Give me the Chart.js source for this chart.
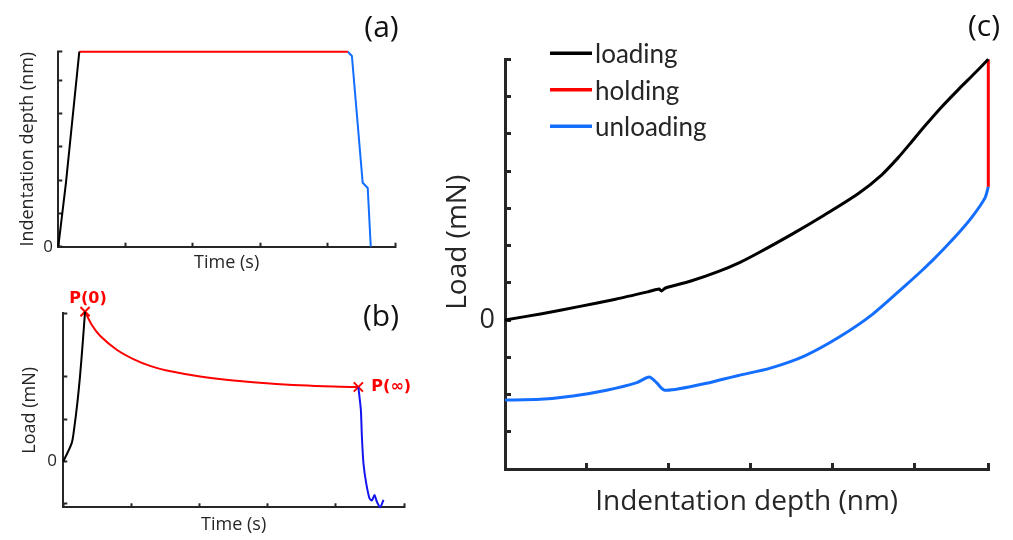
<!DOCTYPE html>
<html>
<head>
<meta charset="utf-8">
<script src="https://cdn.jsdelivr.net/npm/chart.js@4.4.1/dist/chart.umd.min.js"></script>
<style>
  html, body { margin: 0; padding: 0; background: #fff; }
  body { width: 1013px; height: 540px; position: relative; overflow: hidden; }
  canvas { position: absolute; }
  #chartA { left: 0; top: 0; }
  #chartB { left: 0; top: 280px; }
  #chartC { left: 430px; top: 0; }
</style>
</head>
<body>
<canvas id="chartA" width="420" height="280"></canvas>
<canvas id="chartB" width="420" height="260"></canvas>
<canvas id="chartC" width="583" height="540"></canvas>
<script>
// (a) indentation depth vs time
const timeLoadA = [0, 0.114, 0.312];
const depthLoadA = [0, 1.92, 5.85];
const timeHoldA = [0.312, 4.30];
const depthHoldA = [5.85, 5.85];
const timeUnloadA = [4.30, 4.36, 4.52, 4.595, 4.64];
const depthUnloadA = [5.85, 5.72, 1.92, 1.76, 0];
const xTicksA = [0, 1, 2, 3, 4, 5];
const yTicksA = [0, 1, 2, 3, 4, 5, 5.85];

// (b) load vs time
const timeLoadB = [0, 0.123, 0.157, 0.206, 0.245, 0.285, 0.319];
const loadLoadB = [0, 0.435, 0.75, 1.38, 2.01, 2.8, 3.54];
const timeHoldB = [0.319, 0.417, 0.539, 0.784, 1.028, 1.273, 1.518, 2.007, 2.496, 2.986, 3.475, 3.965, 4.33];
const loadHoldB = [3.54, 3.23, 2.97, 2.64, 2.42, 2.26, 2.15, 2.01, 1.915, 1.85, 1.80, 1.77, 1.76];
const timeUnloadB = [4.33, 4.367, 4.382, 4.405, 4.445, 4.493, 4.529, 4.567, 4.602, 4.651, 4.699];
const loadUnloadB = [1.76, 1.22, 0.59, -0.04, -0.51, -0.865, -0.92, -0.79, -0.95, -1.08, -0.905];
const xTicksB = [0, 1, 2, 3, 4, 5];
const yTicksB = [-1, 0, 1, 2, 3.5];

// (c) load vs indentation depth
const depthLoadC = [0, 0.45, 0.9, 1.35, 1.75, 1.88, 1.91, 1.96, 2.26, 2.6, 2.87, 3.09, 3.5, 3.9, 4.31, 4.6, 4.8, 4.97, 5.13, 5.33, 5.54, 5.7, 5.9];
const loadLoadC = [0, 0.17, 0.36, 0.56, 0.76, 0.83, 0.78, 0.86, 1.04, 1.3, 1.55, 1.8, 2.3, 2.82, 3.39, 3.9, 4.36, 4.8, 5.22, 5.72, 6.2, 6.55, 7.0];
const depthHoldC = [5.9, 5.9];
const loadHoldC = [7.0, 3.58];
const depthUnloadC = [5.9, 5.86, 5.7, 5.54, 5.37, 5.21, 5.09, 4.91, 4.49, 4.07, 3.66, 3.24, 2.85, 2.66, 2.46, 2.26, 2.04, 1.95, 1.91, 1.85, 1.76, 1.61, 1.24, 0.83, 0.43, 0];
const loadUnloadC = [3.58, 3.28, 2.76, 2.34, 1.94, 1.58, 1.33, 0.97, 0.16, -0.47, -0.96, -1.29, -1.49, -1.59, -1.7, -1.79, -1.875, -1.885, -1.83, -1.68, -1.53, -1.68, -1.885, -2.04, -2.13, -2.15];
const xTicksC = [0, 1, 2, 3, 4, 5, 5.9];
const yTicksC = [-4, -3, -2, -1, 0, 1, 2, 3, 4, 5, 6, 7];

const axisColor = '#262626';
const RED = '#ff0000';
const BLACK = '#000000';
const BLUE = '#146eff';

function pts(xs, ys) {
    return xs.map((x, i) => ({ x: x, y: ys[i] }));
}

function line(label, xs, ys, color, width, tension) {
    return {
        label: label, data: pts(xs, ys), showLine: true,
        borderColor: color, backgroundColor: color, borderWidth: width,
        pointRadius: 0, tension: tension || 0, clip: false
    };
}

function axes(o) {
    return {
        x: {
            type: 'linear', min: o.xMin, max: o.xMax,
            afterBuildTicks: s => { s.ticks = o.xTicks.map(v => ({ value: v })); },
            afterFit: s => { s.height = o.xHeight; },
            ticks: { autoSkip: false, maxRotation: 0, callback: () => '' },
            grid: { drawOnChartArea: false, drawTicks: true, tickLength: -o.tick, tickWidth: o.lw, tickColor: axisColor, color: axisColor },
            border: { display: true, color: axisColor, width: o.lw },
            title: { display: true, text: o.xTitle, color: axisColor, font: { family: 'Open Sans', size: o.titleSize }, padding: { top: 0, bottom: o.xTitlePad } }
        },
        y: {
            type: 'linear', min: o.yMin, max: o.yMax,
            afterBuildTicks: s => { s.ticks = o.yTicks.map(v => ({ value: v })); },
            afterFit: s => { s.width = o.yWidth; },
            ticks: { autoSkip: false, padding: o.labelPad, color: axisColor, font: { family: 'Open Sans', size: o.zeroSize }, callback: v => (v === 0 ? '0' : '') },
            grid: { drawOnChartArea: false, drawTicks: true, tickLength: -o.tick, tickWidth: o.lw, tickColor: axisColor, color: axisColor },
            border: { display: true, color: axisColor, width: o.lw },
            title: { display: true, text: o.yTitle, color: axisColor, font: { family: 'Open Sans', size: o.titleSize }, padding: { top: o.yTitlePad, bottom: 0 } }
        }
    };
}

function textPlugin(items) {
    return {
        id: 'panelText',
        afterDraw(chart) {
            const ctx = chart.ctx;
            items.forEach(it => {
                let x = it.x, y = it.y;
                if (it.at) {
                    x = chart.scales.x.getPixelForValue(it.at[0]) + it.dx;
                    y = chart.scales.y.getPixelForValue(it.at[1]) + it.dy;
                }
                ctx.save();
                ctx.font = it.font;
                ctx.fillStyle = it.color || '#000';
                ctx.textAlign = it.align || 'center';
                ctx.textBaseline = 'middle';
                ctx.fillText(it.text, x, y);
                ctx.restore();
            });
        }
    };
}

const legendC = {
    id: 'legendC',
    afterDraw(chart) {
        const ctx = chart.ctx;
        chart.data.datasets.forEach((ds, i) => {
            const y = 53.3 + i * 36.5;
            ctx.save();
            ctx.strokeStyle = ds.borderColor;
            ctx.lineWidth = 3.5;
            ctx.beginPath();
            ctx.moveTo(120, y);
            ctx.lineTo(162, y);
            ctx.stroke();
            ctx.font = '26px Lato';
            ctx.fillStyle = axisColor;
            ctx.textAlign = 'left';
            ctx.textBaseline = 'alphabetic';
            ctx.fillText(ds.label, 165, y + 10);
            ctx.restore();
        });
    }
};

const common = {
    responsive: false, animation: false,
    plugins: { legend: { display: false }, tooltip: { enabled: false } }
};

function draw() {
    Chart.defaults.font.family = 'Open Sans';

    // A. DEPTH vs TIME
    new Chart(document.getElementById('chartA').getContext('2d'), {
        type: 'scatter',
        data: {
            datasets: [
                line('loading', timeLoadA, depthLoadA, BLACK, 2),
                line('holding', timeHoldA, depthHoldA, RED, 2),
                line('unloading', timeUnloadA, depthUnloadA, BLUE, 2)
            ]
        },
        options: Object.assign({}, common, {
            layout: { padding: { left: 0, top: 51.7, right: 25, bottom: 0 } },
            scales: axes({
                xMin: 0, xMax: 5, yMin: 0, yMax: 5.85, xTicks: xTicksA, yTicks: yTicksA,
                xHeight: 33.3, yWidth: 58.3, tick: 4, lw: 2, labelPad: 9.3,
                xTitle: 'Time (s)', yTitle: 'Indentation depth (nm)', titleSize: 18, zeroSize: 17,
                xTitlePad: 6.2, yTitlePad: 17.2
            })
        }),
        plugins: [textPlugin([{ text: '(a)', x: 381.5, y: 28.5, font: '30px "Open Sans"', color: '#111' }])]
    });

    // B. LOAD vs TIME
    const markersB = {
        label: 'markers',
        data: [
            { x: timeHoldB[0], y: loadHoldB[0] },
            { x: timeHoldB[timeHoldB.length - 1], y: loadHoldB[loadHoldB.length - 1] }
        ],
        showLine: false, pointStyle: 'crossRot', pointRadius: 6.5, borderWidth: 2,
        borderColor: RED, backgroundColor: RED, clip: false
    };
    new Chart(document.getElementById('chartB').getContext('2d'), {
        type: 'scatter',
        data: {
            datasets: [
                line('loading', timeLoadB, loadLoadB, BLACK, 2, 0.3),
                line('holding', timeHoldB, loadHoldB, RED, 2, 0.3),
                line('unloading', timeUnloadB, loadUnloadB, '#1414f0', 2, 0.2),
                markersB
            ]
        },
        options: Object.assign({}, common, {
            layout: { padding: { left: 0, top: 33.3, right: 16, bottom: 0 } },
            scales: axes({
                xMin: 0, xMax: 5, yMin: -1.08, yMax: 3.5, xTicks: xTicksB, yTicks: yTicksB,
                xHeight: 32.7, yWidth: 63.3, tick: 4, lw: 2, labelPad: 10.3,
                xTitle: 'Time (s)', yTitle: 'Load (mN)', titleSize: 18, zeroSize: 17,
                xTitlePad: 4.2, yTitlePad: 18.7
            })
        }),
        plugins: [textPlugin([
            { text: '(b)', x: 381, y: 37, font: '30px "Open Sans"', color: '#111' },
            { text: 'P(0)', at: [timeHoldB[0], loadHoldB[0]], dx: 3, dy: -13, font: 'bold 16px "DejaVu Sans"', color: RED },
            { text: 'P(\u221e)', at: [timeHoldB[timeHoldB.length - 1], loadHoldB[loadHoldB.length - 1]], dx: 13, dy: 0, align: 'left', font: 'bold 16px "DejaVu Sans"', color: RED }
        ])]
    });

    // C. LOAD vs DEPTH
    new Chart(document.getElementById('chartC').getContext('2d'), {
        type: 'scatter',
        data: {
            datasets: [
                line('loading', depthLoadC, loadLoadC, BLACK, 3, 0.25),
                line('holding', depthHoldC, loadHoldC, RED, 3),
                line('unloading', depthUnloadC, loadUnloadC, BLUE, 3, 0.25)
            ]
        },
        options: Object.assign({}, common, {
            layout: { padding: { left: 0, top: 59.3, right: 24.7, bottom: 0 } },
            scales: axes({
                xMin: 0, xMax: 5.9, yMin: -4, yMax: 7, xTicks: xTicksC, yTicks: yTicksC,
                xHeight: 71, yWidth: 75, tick: 6, lw: 3, labelPad: 16,
                xTitle: 'Indentation depth (nm)', yTitle: '      Load (mN)', titleSize: 28, zeroSize: 27,
                xTitlePad: 21, yTitlePad: 11.2
            })
        }),
        plugins: [legendC, textPlugin([{ text: '(c)', x: 554, y: 27.5, font: '30px "Open Sans"', color: '#111' }])]
    });
}

document.addEventListener('DOMContentLoaded', function() {
    const fonts = ['18px "Open Sans"', '26px Lato', 'bold 16px "DejaVu Sans"'];
    Promise.all(fonts.map(f => document.fonts.load(f)))
        .catch(() => null)
        .then(draw);
});
</script>
</body>
</html>
